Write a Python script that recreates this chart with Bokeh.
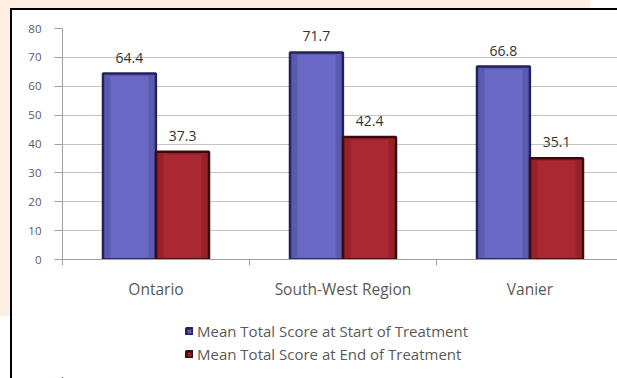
import numpy as np
from bokeh.plotting import figure
from bokeh.layouts import column
from bokeh.models import (ColumnDataSource, Range1d, FixedTicker, Legend, LegendItem)
from bokeh.embed import file_html
from bokeh.resources import INLINE
from bokeh.core.properties import value

# ---- data ----
regions = ["Ontario", "South-West Region", "Vanier"]
start_scores = [64.4, 71.7, 66.8]
end_scores = [37.3, 42.4, 35.1]
series_names = ["Mean Total Score at Start of Treatment",
                "Mean Total Score at End of Treatment"]
y_ticks = [0, 10, 20, 30, 40, 50, 60, 70, 80]

# ---- styles ----
FONT = "Open Sans"
BEIGE = "#fcefe2"
TXT = "#595959"
GRID = "#c4c4c4"
AXIS = "#a0a0a0"
BLUE_FILL, BLUE_IN, BLUE_LINE = "#5a5ab0", "#6a6ac6", "#23235c"
RED_FILL, RED_IN, RED_LINE = "#962128", "#aa2832", "#3a0a10"

n = len(regions)
centers = np.arange(n) + 0.5
OFF, BW = 0.142, 0.283

src_start = ColumnDataSource(dict(x=centers - OFF, top=start_scores,
                                  inner=[v - 0.9 for v in start_scores],
                                  label=[f"{v:.1f}" for v in start_scores]))
src_end = ColumnDataSource(dict(x=centers + OFF, top=end_scores,
                                inner=[v - 0.9 for v in end_scores],
                                label=[f"{v:.1f}" for v in end_scores]))

# ---------------- main chart ----------------
p = figure(width=617, height=310, output_backend="svg", toolbar_location=None,
           x_range=Range1d(0, 2.968), y_range=Range1d(0, 80),
           min_border_left=62, min_border_right=0, min_border_top=28,
           min_border_bottom=51)
p.background_fill_color = "white"
p.border_fill_alpha = 0
p.outline_line_color = None

p.xgrid.visible = False
p.ygrid.ticker = FixedTicker(ticks=y_ticks)
p.ygrid.grid_line_color = GRID
p.ygrid.grid_line_width = 1

p.yaxis.ticker = FixedTicker(ticks=y_ticks)
p.yaxis.axis_line_color = AXIS
p.yaxis.major_tick_line_color = AXIS
p.yaxis.major_tick_out = 8
p.yaxis.major_tick_in = 0
p.yaxis.minor_tick_line_color = None
p.yaxis.major_label_standoff = 13
p.yaxis.major_label_text_font = FONT
p.yaxis.major_label_text_font_size = "11.5px"
p.yaxis.major_label_text_color = TXT

p.xaxis.ticker = FixedTicker(ticks=list(centers), minor_ticks=list(range(n + 1)))
p.xaxis.major_label_overrides = {float(c): r for c, r in zip(centers, regions)}
p.xaxis.axis_line_color = AXIS
p.xaxis.major_tick_line_color = None
p.xaxis.major_tick_out = 0
p.xaxis.major_tick_in = 0
p.xaxis.minor_tick_line_color = AXIS
p.xaxis.minor_tick_out = 6
p.xaxis.minor_tick_in = 0
p.xaxis.major_label_standoff = 12
p.xaxis.major_label_text_font = FONT
p.xaxis.major_label_text_font_size = "15.5px"
p.xaxis.major_label_text_color = TXT


def draw_bars(fig):
    a = fig.vbar(x="x", top="top", bottom=0, width=BW, source=src_start,
                 fill_color=BLUE_FILL, line_color=BLUE_LINE, line_width=2.5)
    fig.vbar(x="x", top="inner", bottom=0.6, width=BW * 0.72, source=src_start,
             fill_color=BLUE_IN, line_color=None)
    b = fig.vbar(x="x", top="top", bottom=0, width=BW, source=src_end,
                 fill_color=RED_FILL, line_color=RED_LINE, line_width=2.5)
    fig.vbar(x="x", top="inner", bottom=0.6, width=BW * 0.72, source=src_end,
             fill_color=RED_IN, line_color=None)
    return a, b


draw_bars(p)

for s in (src_start, src_end):
    p.text(x="x", y="top", text="label", source=s, text_align="center",
           text_baseline="middle", y_offset=-16, text_font=value(FONT),
           text_font_size=value("14px"), text_color="#333333")

# ---------------- legend strip ----------------
lg = figure(width=617, height=68, output_backend="svg", toolbar_location=None,
            x_range=Range1d(100, 101), y_range=Range1d(100, 101),
            min_border=0, x_axis_location=None, y_axis_location=None)
lg.grid.visible = False
lg.background_fill_alpha = 0
lg.border_fill_alpha = 0
lg.outline_line_color = None
l1, l2 = draw_bars(lg)   # out of view; only feed the legend swatches

legend = Legend(items=[LegendItem(label=series_names[0], renderers=[l1]),
                       LegendItem(label=series_names[1], renderers=[l2])],
                location=(123, 14), orientation="vertical",
                glyph_width=8, glyph_height=8, label_standoff=4,
                padding=0, spacing=3, label_height=18, margin=0,
                background_fill_alpha=0, border_line_color=None,
                label_text_font=FONT, label_text_font_size="15px",
                label_text_color=TXT)
lg.add_layout(legend, "center")

page = column(p, lg, spacing=0)
page.styles = {
    "background-color": "white",
    "background-image": ("linear-gradient(#000,#000), linear-gradient(#000,#000), "
                         "linear-gradient(#fff,#fff), "
                         f"linear-gradient({BEIGE},{BEIGE})"),
    "background-position": "10px 8px, 10px 8px, 12px 10px, 0px 0px",
    "background-size": "607px 2px, 2px 370px, 605px 368px, 590px 316px",
    "background-repeat": "no-repeat",
}

open("out.html", "w").write(file_html(page, INLINE))
